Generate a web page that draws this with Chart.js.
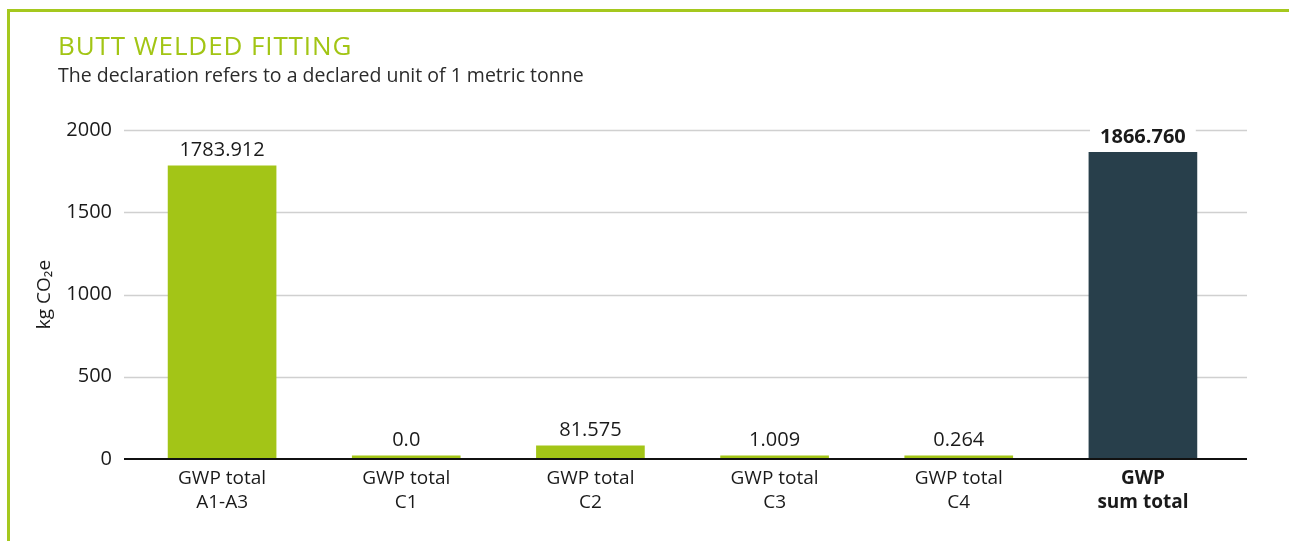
<!DOCTYPE html>
<html>
<head>
<meta charset="utf-8">
<script src="https://cdn.jsdelivr.net/npm/chart.js@4.4.0/dist/chart.umd.min.js"></script>
<style>
  body { margin: 0; background: #fff; font-family: "Open Sans", sans-serif; }
  #frame { position: absolute; left: 7px; top: 9px; width: 1282px; height: 532px;
           border-top: 3px solid #a5c81e; border-left: 3px solid #a5c81e; box-sizing: border-box; }
  #title { position: absolute; left: 58px; top: 32px; font-size: 26px; line-height: 26px;
           color: #a2c514; letter-spacing: 0.9px; white-space: nowrap; }
  #subtitle { position: absolute; left: 58px; top: 65px; font-size: 19.5px; line-height: 19px;
              color: #2b2b2b; white-space: nowrap; }
  #myChart { position: absolute; left: 0; top: 0; }
</style>
</head>
<body>
<div id="frame"></div>
<canvas id="myChart" width="1289" height="541"></canvas>
<div id="title">BUTT WELDED FITTING</div>
<div id="subtitle">The declaration refers to a declared unit of 1 metric tonne</div>
<script>
const labels = [
    ['GWP total', 'A1-A3'],
    ['GWP total', 'C1'],
    ['GWP total', 'C2'],
    ['GWP total', 'C3'],
    ['GWP total', 'C4'],
    ['GWP', 'sum total']
];
const values = [1783.912, 0.0, 81.575, 1.009, 0.264, 1866.760];
const valueLabels = ['1783.912', '0.0', '81.575', '1.009', '0.264', '1866.760'];
const barColors = ['#a3c517', '#a3c517', '#a3c517', '#a3c517', '#a3c517', '#283f4b'];
const yTicks = [0, 500, 1000, 1500, 2000];

// gridlines run a bit wider than the plot area in the original
const gridPlugin = {
    id: 'gridLines',
    beforeDatasetsDraw(chart) {
        const ctx = chart.ctx;
        const y = chart.scales.y;
        ctx.save();
        yTicks.forEach(v => {
            if (v === 0) return;
            const py = Math.round(y.getPixelForValue(v));
            ctx.beginPath();
            ctx.strokeStyle = '#d0d0d0';
            ctx.lineWidth = 1.5;
            ctx.moveTo(124, py + 0.5);
            ctx.lineTo(1247, py + 0.5);
            ctx.stroke();
        });
        ctx.restore();
    },
    afterDatasetsDraw(chart) {
        const ctx = chart.ctx;
        const y = chart.scales.y;
        // zero line on top of the bars
        ctx.save();
        const py = Math.round(y.getPixelForValue(0));
        ctx.strokeStyle = '#111';
        ctx.lineWidth = 2;
        ctx.beginPath();
        ctx.moveTo(124, py);
        ctx.lineTo(1247, py);
        ctx.stroke();

        // value labels
        const meta = chart.getDatasetMeta(0);
        meta.data.forEach((bar, i) => {
            const bold = i === 5;
            ctx.font = (bold ? 'bold ' : '') + '20px "Open Sans"';
            const txt = valueLabels[i];
            const w = ctx.measureText(txt).width;
            const ty = bar.y - 15;
            ctx.fillStyle = '#fff';
            ctx.fillRect(bar.x - w / 2 - 10, ty - 11, w + 20, 22);
            ctx.fillStyle = '#1a1a1a';
            ctx.textAlign = 'center';
            ctx.textBaseline = 'middle';
            ctx.fillText(txt, bar.x, ty);
        });
        ctx.restore();
    }
};

const data = {
    labels: labels,
    datasets: [{
        data: values,
        backgroundColor: barColors,
        barPercentage: 0.59,
        categoryPercentage: 1,
        minBarLength: 3.5
    }]
};

const config = {
    type: 'bar',
    data: data,
    plugins: [gridPlugin],
    options: {
        responsive: false,
        animation: false,
        devicePixelRatio: 1,
        layout: { padding: { top: 130, right: 54, left: 0, bottom: 0 } },
        plugins: {
            legend: { display: false },
            tooltip: { enabled: false }
        },
        scales: {
            x: {
                grid: { display: false, drawTicks: false },
                border: { display: false },
                afterFit: s => { s.height = 82; },
                ticks: {
                    padding: 8,
                    color: '#1a1a1a',
                    maxRotation: 0,
                    autoSkip: false,
                    font: c => ({ family: '"Open Sans"', size: 19, weight: c.index === 5 ? 'bold' : 'normal', lineHeight: 1.25 })
                }
            },
            y: {
                min: 0,
                max: 2000,
                afterFit: s => { s.width = 130; },
                grid: { display: false, drawTicks: false },
                border: { display: false },
                ticks: {
                    stepSize: 500,
                    padding: 18,
                    color: '#1a1a1a',
                    font: { family: '"Open Sans"', size: 20 },
                    callback: v => String(v)
                },
                title: {
                    display: true,
                    text: 'kg CO₂e',
                    color: '#1a1a1a',
                    padding: { top: 33, bottom: 0 },
                    font: { family: '"Open Sans"', size: 19 }
                }
            }
        }
    }
};

const myChart = new Chart(document.getElementById('myChart'), config);
</script>
</body>
</html>
